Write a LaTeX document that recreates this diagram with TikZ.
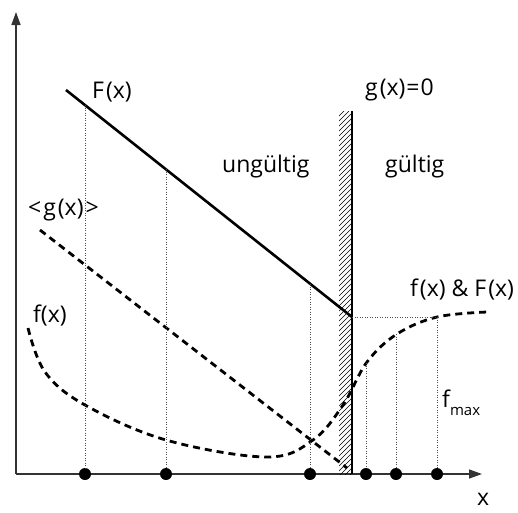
\documentclass[tikz,border=0pt]{standalone}
\usepackage{fontspec}
\setmainfont{Open Sans}
\usetikzlibrary{arrows.meta}
\begin{document}
\begin{tikzpicture}[x=1pt,y=-1pt,
  lbl/.style={font=\fontsize{23}{25}\selectfont, inner sep=0pt, anchor=base west},
  axisline/.style={line width=1.5pt, draw=black!80, -{Triangle[length=13pt,width=9pt]}},
  dotv/.style={dash pattern=on 1.2pt off 1.3pt, line width=0.8pt, draw=black!70},
  ptdot/.style={circle, fill=black, inner sep=0pt, minimum size=12pt},
  dashthick/.style={line width=2.8pt, dash pattern=on 7pt off 5pt},
  wallline/.style={line width=2.6pt},
  hatchline/.style={line width=0.6pt},
  Fline/.style={line width=2.6pt}]
\useasboundingbox (0,0) rectangle (518,512);
% axes
\coordinate (O) at (16,474);
\coordinate (ytip) at (16,12);
\coordinate (xtip) at (482,474);
\draw[axisline] (O) -- (ytip);
\draw[axisline] (O) -- (xtip);
% hatched wall
\coordinate (wtop) at (352,111);
\coordinate (wbot) at (352,474);
\begin{scope}
\clip (339,111) rectangle (352,474);
\foreach \k in {0,...,80} {
  \draw[hatchline] (339,116+\k*5) -- (352,103+\k*5);
}
\end{scope}
\draw[wallline] (wtop) -- (wbot);
% F(x) line
\coordinate (Fstart) at (66,90);
\coordinate (Fend) at (352,317);
\draw[Fline] (Fstart) -- (Fend);
% <g(x)> dashed line
\coordinate (gstart) at (40,230);
\coordinate (gend) at (347,468);
\draw[dashthick] (gstart) -- (gend);
% f(x) curve
\draw[dashthick] plot[smooth, tension=0.6] coordinates {(28,328) (45,372) (85,405) (166,440) (267,457) (313,440) (343,405) (367,362) (397,334) (437,317) (487,312)};
% dots
\node[ptdot] (d1) at (85,474) {};
\node[ptdot] (d2) at (166,474) {};
\node[ptdot] (d3) at (310,474) {};
\node[ptdot] (d4) at (366,474) {};
\node[ptdot] (d5) at (396,474) {};
\node[ptdot] (d6) at (437,474) {};
% dotted verticals
\coordinate (c1) at (85,105);
\coordinate (c2) at (166,169);
\coordinate (c3) at (310,284);
\coordinate (c4) at (366,363);
\coordinate (c5) at (396,334);
\coordinate (c6) at (437,317);
\draw[dotv] (c1) -- (d1);
\draw[dotv] (c2) -- (d2);
\draw[dotv] (c3) -- (d3);
\draw[dotv] (c4) -- (d4);
\draw[dotv] (c5) -- (d5);
\draw[dotv] (c6) -- (d6);
\draw[dotv] (Fend) -- (c6);
% labels
\node[lbl] (lF) at (92,98) {F\kern2pt(x)};
\node[lbl] (lung) at (222,172) {ungültig};
\node[lbl] (lgue) at (385,172) {gültig};
\node[lbl] (lg0) at (365,95) {g\kern2pt(x)\kern1pt=\kern1pt0};
\node[lbl] (lgm) at (28,215) {<\kern2pt g\kern2pt(x)\kern2pt>};
\node[lbl] (lf) at (33,322) {f(x)};
\node[lbl] (lfF) at (410,296) {f\kern2pt(x) \& F\kern2pt(x)};
\node[lbl] (lfmax) at (442,407) {f\raisebox{-8pt}{\fontsize{15}{15}\selectfont max}};
\node[lbl] (lx) at (477,505) {x};
\end{tikzpicture}
\end{document}
